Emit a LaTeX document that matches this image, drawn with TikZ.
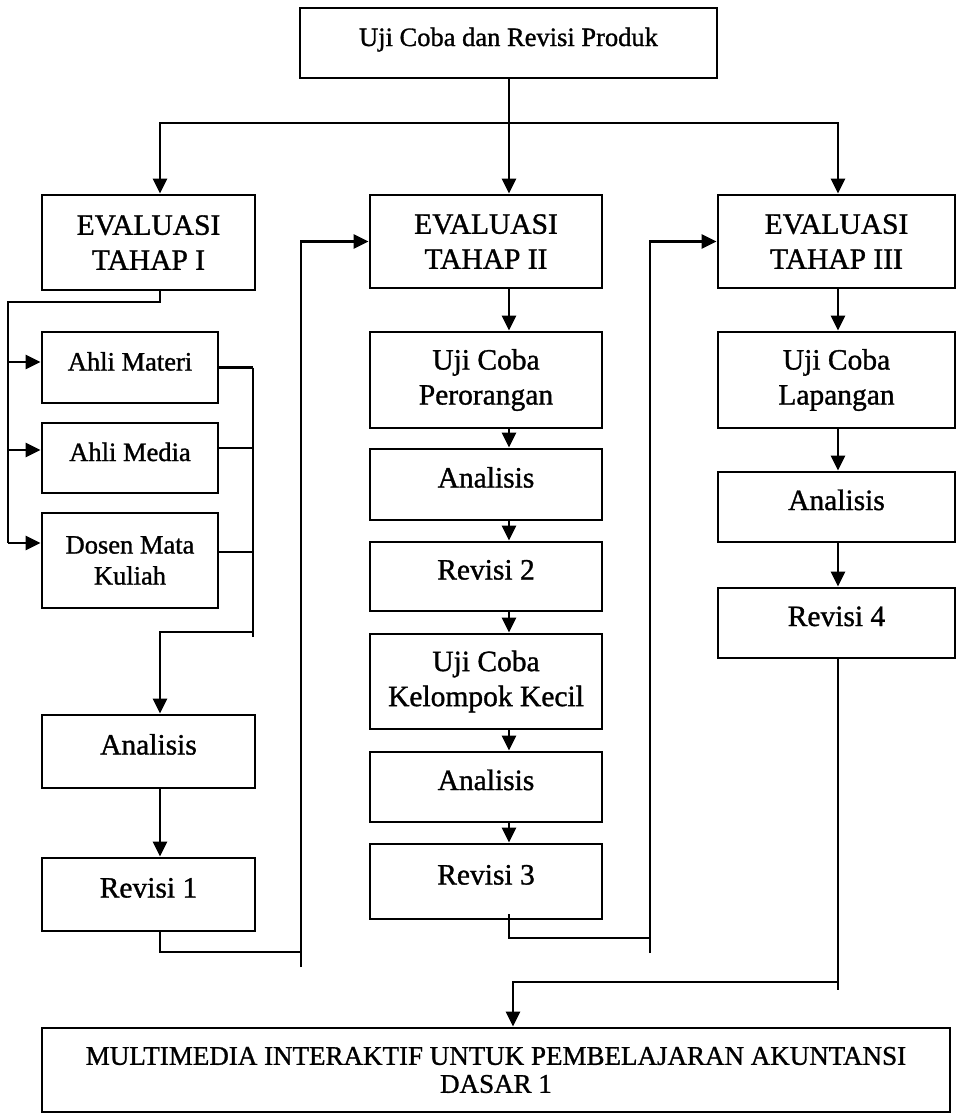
\documentclass[tikz,border=0pt]{standalone}
\usepackage{fontspec}
\setmainfont{Liberation Serif}[FakeBold=1.1]
\usetikzlibrary{positioning,calc,arrows.meta}
\tikzset{>={Triangle[length=15pt,width=14pt]}}
\tikzset{
  box/.style={draw,line width=2.8pt,inner sep=0pt,align=center,font=\fontsize{29.5}{35}\selectfont},
  smallbox/.style={font=\fontsize{26.5}{31}\selectfont},
  oneline/.style={text height=20pt,text depth=14pt},
  link/.style={line width=2.5pt}
}

\begin{document}
\begin{tikzpicture}[x=1pt,y=-1pt]
\useasboundingbox (0,0) rectangle (957,1114);
% Top box and the three stages
\node[box,smallbox,oneline,minimum width=417pt,minimum height=70pt] (top) at (508.5,43) {Uji Coba dan Revisi Produk};
\node[box,minimum width=213pt,minimum height=95pt] (e1) at (148.5,242.5) {EVALUASI\\TAHAP I};
\node[box,minimum width=232pt,minimum height=93pt] (e2) at (486,241.5) {EVALUASI\\TAHAP II};
\node[box,minimum width=237pt,minimum height=93pt] (e3) at (836.5,241.5) {EVALUASI\\TAHAP III};
\coordinate (c1) at (160,0);
\coordinate (c2) at (509,0);
\coordinate (c3) at (838,0);
\coordinate (cm) at (513,0);
% Stage I boxes
\node[box,smallbox,oneline,minimum width=176pt,minimum height=71pt] (am) at (130,367.5) {Ahli Materi};
\node[box,smallbox,oneline,minimum width=176pt,minimum height=70pt] (amd) at (130,458) {Ahli Media};
\node[box,smallbox,minimum width=176pt,minimum height=95pt] (dmk) at (130,560.5) {Dosen Mata\\Kuliah};
\node[box,oneline,minimum width=213pt,minimum height=73pt] (an1) at (148.5,751.5) {Analisis};
\node[box,oneline,minimum width=213pt,minimum height=73pt] (rv1) at (148.5,894.5) {Revisi 1};
% Stage II boxes
\node[box,minimum width=232pt,minimum height=96pt] (ucp) at (486,380) {Uji Coba\\Perorangan};
\node[box,oneline,minimum width=232pt,minimum height=71pt] (an2) at (486,484.5) {Analisis};
\node[box,oneline,minimum width=232pt,minimum height=69pt] (rv2) at (486,576.5) {Revisi 2};
\node[box,minimum width=232pt,minimum height=95pt] (uck) at (486,681.5) {Uji Coba\\Kelompok Kecil};
\node[box,oneline,minimum width=232pt,minimum height=70pt] (an3) at (486,787) {Analisis};
\node[box,oneline,minimum width=232pt,minimum height=75pt] (rv3) at (486,881.5) {Revisi 3};
% Stage III boxes
\node[box,minimum width=237pt,minimum height=96pt] (ucl) at (836.5,380) {Uji Coba\\Lapangan};
\node[box,oneline,minimum width=237pt,minimum height=70pt] (an4) at (836.5,507) {Analisis};
\node[box,oneline,minimum width=237pt,minimum height=70pt] (rv4) at (836.5,623) {Revisi 4};
% Final product
\node[box,font=\fontsize{27}{28}\selectfont,minimum width=908pt,minimum height=84pt] (mm) at (496,1070) {MULTIMEDIA INTERAKTIF UNTUK PEMBELAJARAN AKUNTANSI\\DASAR 1};
% Split from top box
\coordinate (bar) at (509,123);
\draw[link,->] (top.south -| c2) -- (e2.north -| c2);
\draw[link,->] (bar) -| (e1.north -| c1);
\draw[link,->] (bar) -| (e3.north -| c3);
% Stage I fan out and collect
\coordinate (fl) at (8,302);
\draw[link] (e1.south -| c1) |- (fl) -- (8,543);
\foreach \b/\s in {am/5.5,amd/8,dmk/17.5}{
  \coordinate (in\b) at ([yshift=\s pt]\b.west);
  \draw[link,->] (in\b -| fl) -- (in\b);
}
\coordinate (cr) at (253,632);
\foreach \b/\s in {am/0,amd/10,dmk/8.5}{
  \coordinate (out\b) at ([yshift=\s pt]\b.east);
  \draw[link] (out\b) -- (out\b -| cr);
}
\draw[link] (outam -| cr) -- (253,637);
\draw[link,->] (cr) -| (an1.north -| c1);
\draw[link,->] (an1.south -| c1) -- (rv1.north -| c1);
% Revisi 1 to stage II
\coordinate (r1) at (301,952);
\coordinate (r1end) at (301,967);
\draw[link] (rv1.south -| c1) |- (r1);
\draw[link,->] (r1end) |- (e2.west);
% Stage II chain
\foreach \a/\b in {e2/ucp,ucp/an2,an2/rv2,rv2/uck,uck/an3,an3/rv3}
  \draw[link,->] (\a.south -| c2) -- (\b.north -| c2);
% Revisi 3 to stage III
\coordinate (r3) at (650,938);
\coordinate (r3end) at (650,953);
\draw[link] ([yshift=6pt]rv3.south -| c2) |- (r3);
\draw[link,->] (r3end) |- (e3.west);
% Stage III chain
\foreach \a/\b in {e3/ucl,ucl/an4,an4/rv4}
  \draw[link,->] (\a.south -| c3) -- (\b.north -| c3);
% Revisi 4 to final product
\coordinate (r4) at (838,982);
\draw[link] (rv4.south -| c3) -- (838,990);
\draw[link,->] (r4) -| (mm.north -| cm);
\end{tikzpicture}
\end{document}
